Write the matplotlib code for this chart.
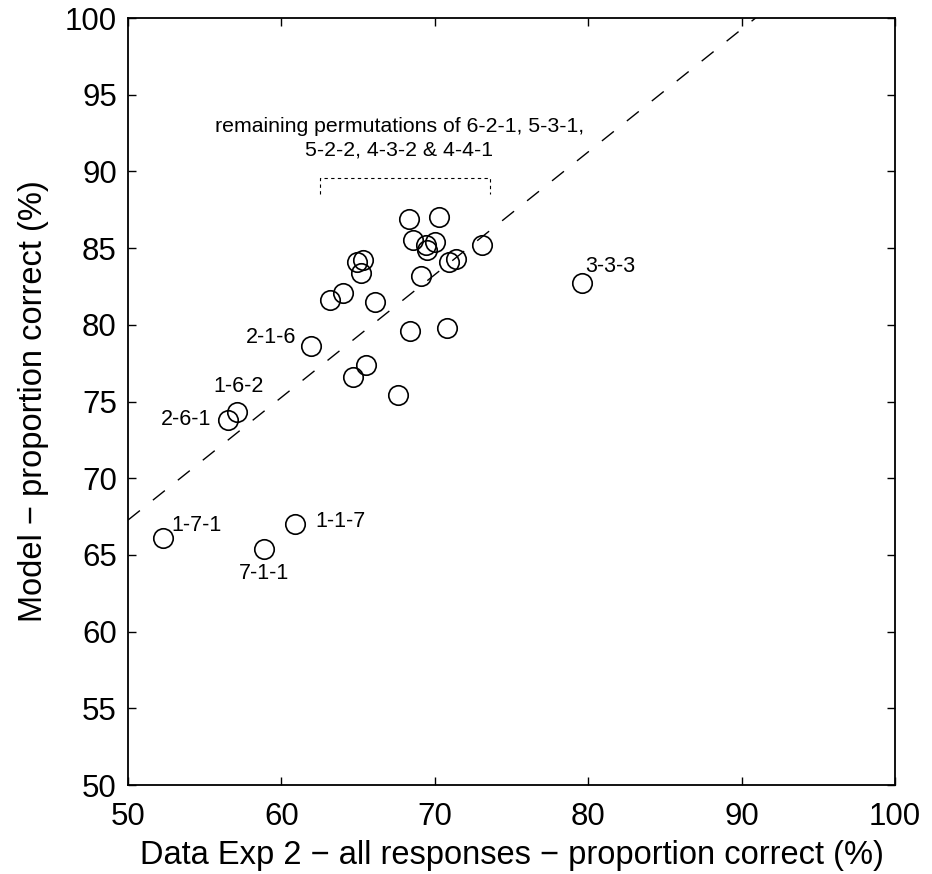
import matplotlib.pyplot as plt

plt.rcParams['font.family'] = ['Liberation Sans', 'DejaVu Sans']

# data: experiment 2 vs model, proportion correct (%)
data_x = [68.3, 70.3, 68.6, 69.5, 70.0, 69.4, 73.1, 70.9, 71.4, 69.1,
          64.9, 65.3, 65.2, 63.2, 64.0, 66.1, 68.4, 70.8, 65.5, 64.7,
          67.6,
          61.9, 57.1, 56.5, 52.3, 58.9, 60.9, 79.6]
model_y = [86.9, 87.0, 85.5, 84.9, 85.4, 85.2, 85.2, 84.1, 84.3, 83.2,
           84.1, 84.2, 83.4, 81.6, 82.1, 81.5, 79.6, 79.8, 77.4, 76.6,
           75.4,
           78.6, 74.3, 73.8, 66.1, 65.4, 67.0, 82.7]

# labelled points: (label, text x, text y, alignment)
labels = [("2-1-6", 61.0, 79.2, "right"),
          ("1-6-2", 57.2, 76.0, "center"),
          ("2-6-1", 55.4, 73.8, "right"),
          ("1-7-1", 52.8, 66.9, "left"),
          ("7-1-1", 58.9, 63.8, "center"),
          ("1-1-7", 62.2, 67.2, "left"),
          ("3-3-3", 79.8, 83.8, "left")]

# fitted line y = a*x + b
fit_a = 0.8
fit_b = 27.27

bracket_x = [62.5, 73.6]
bracket_y = [88.5, 89.55]

fig = plt.figure(figsize=(9.32, 8.74), dpi=100)
ax = fig.add_axes([0.1373, 0.1018, 0.823, 0.8776])

ax.plot(data_x, model_y, 'o', ms=14, mfc='none', mec='black', mew=1.2)

xs = [50, 100]
ax.plot(xs, [fit_a * x + fit_b for x in xs], color='black', lw=1.0,
        dashes=(11, 12))

# dashed bracket over the cluster
ax.plot([bracket_x[0], bracket_x[0], bracket_x[1], bracket_x[1]],
        [bracket_y[0], bracket_y[1], bracket_y[1], bracket_y[0]],
        color='black', lw=0.8, dashes=(3, 3))
ax.text(67.7, 92.96, "remaining permutations of 6-2-1, 5-3-1,",
        ha='center', va='center', fontsize=15.3)
ax.text(67.7, 91.4, "5-2-2, 4-3-2 & 4-4-1",
        ha='center', va='center', fontsize=15.3)

for txt, tx, ty, ha in labels:
    ax.text(tx, ty, txt, ha=ha, va='center', fontsize=15.5)

ax.set_xlim(50, 100)
ax.set_ylim(50, 100)
ax.set_xticks(range(50, 101, 10))
ax.set_yticks(range(50, 101, 5))
ax.tick_params(direction='in', length=5.5, width=1, labelsize=22.5,
               top=True, right=True)
ax.tick_params(axis='x', pad=12)
ax.tick_params(axis='y', pad=8)
for sp in ax.spines.values():
    sp.set_linewidth(1.3)

ax.set_xlabel("Data Exp 2 \u2212 all responses \u2212 proportion correct (%)",
              fontsize=23.5, labelpad=6)
ax.set_ylabel("Model \u2212 proportion correct (%)", fontsize=23.5, labelpad=11)

fig.savefig("out.png", dpi=100)
